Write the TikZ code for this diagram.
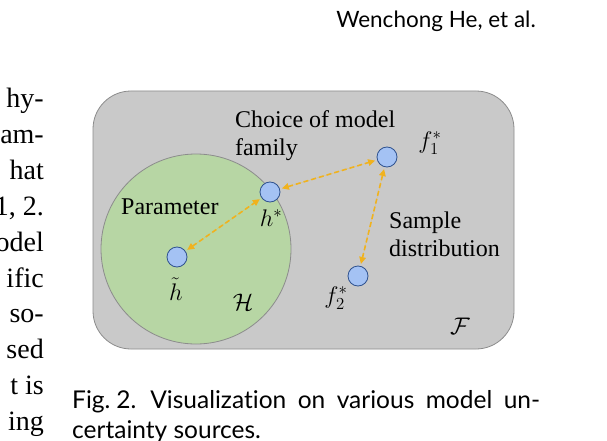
\documentclass[tikz,border=0pt]{standalone}
\usepackage{fix-cm}
\usepackage{amsmath,amssymb}
\usepackage{fontspec}
\setmainfont{Liberation Serif}
\newfontfamily\capfont[Ligatures=NoCommon]{Lato}
\usepackage{xcolor}
\usetikzlibrary{arrows.meta,positioning}

\definecolor{spacegray}{RGB}{201,201,201}
\definecolor{spaceedge}{RGB}{140,140,140}
\definecolor{hypgreen}{RGB}{183,214,164}
\definecolor{pointfill}{RGB}{164,194,244}
\definecolor{pointedge}{RGB}{47,82,143}
\definecolor{linkorange}{RGB}{240,178,30}

\begin{document}
\begin{tikzpicture}[x=1pt, y=1pt,
  point/.style={circle, draw=pointedge, fill=pointfill, line width=0.8pt,
                minimum size=20pt, inner sep=0pt},
  link/.style={{Triangle[length=7pt,width=6.5pt]}-{Triangle[length=7pt,width=6.5pt]},
               line width=1.6pt, draw=linkorange, fill=linkorange,
               dash pattern=on 5pt off 3pt, shorten <=2pt, shorten >=2pt},
  tag/.style={inner sep=0pt, font=\fontsize{24}{28}\selectfont, align=left},
  sym/.style={inner sep=0pt, font=\fontsize{24}{28}\selectfont},
  body/.style={inner sep=0pt, anchor=base east, font=\fontsize{28}{36}\selectfont},
  capline/.style={inner sep=0pt, anchor=base west, font=\capfont\fontsize{24.5}{30}\selectfont}
]
  \clip (0,0) rectangle (607,-441);
  \fill[white] (0,0) rectangle (607,-441);

  % running head
  \node[inner sep=0pt, anchor=base east, font=\capfont\fontsize{22.5}{26}\selectfont]
    (head) at (536,-28) {Wenchong He, et al.};

  % column text cut at the left edge
  \foreach \w [count=\i from 0] in {hy-,am-,hat,{1, 2.},odel,ific,so-,sed,t is,ing}
    \node[body] (txt\i) at (44,-108-35.8*\i) {\w};

  % the space F and the hypothesis space H
  \draw[fill=spacegray, draw=spaceedge, line width=0.8pt, rounded corners=38pt]
    (93,-91) rectangle (514,-349);
  \node[circle, draw=spaceedge, fill=hypgreen, line width=0.8pt,
        minimum size=190pt, inner sep=0pt] (H) at (196,-249) {};

  % points
  \node[point] (ht) at (177,-257) {};
  \node[point] (hs) at (270,-192) {};
  \node[point] (f1) at (387,-157) {};
  \node[point] (f2) at (358,-276) {};

  % uncertainty sources
  \draw[link] (ht) -- (hs);
  \draw[link] (hs) -- (f1);
  \draw[link] (f1) -- (f2);

  % labels
  \node[tag, anchor=west] (choice) at (235,-136) {Choice of model\\family};
  \node[tag, anchor=west] (param) at (121,-207) {Parameter};
  \node[tag, anchor=west] (sample) at (389,-234) {Sample\\distribution};
  \node[sym] (hslab) at (271,-218) {$h^*$};
  \node[sym] (htlab) at (176,-289) {$\tilde{h}$};
  \node[sym] (f1lab) at (430,-143) {$f_1^*$};
  \node[sym] (f2lab) at (336,-298) {$f_2^*$};
  \node[sym] (Hlab) at (243,-302) {$\mathcal{H}$};
  \node[sym] (Flab) at (460,-326) {$\mathcal{F}$};

  % caption
  \node[capline] (cap) at (72,-408)
    {\makebox[468pt][s]{Fig.\hspace{6pt}2.\hspace{14pt}Visualization on various model un-}};
  \node[capline] (capb) at (72,-438) {certainty sources.};
\end{tikzpicture}
\end{document}
